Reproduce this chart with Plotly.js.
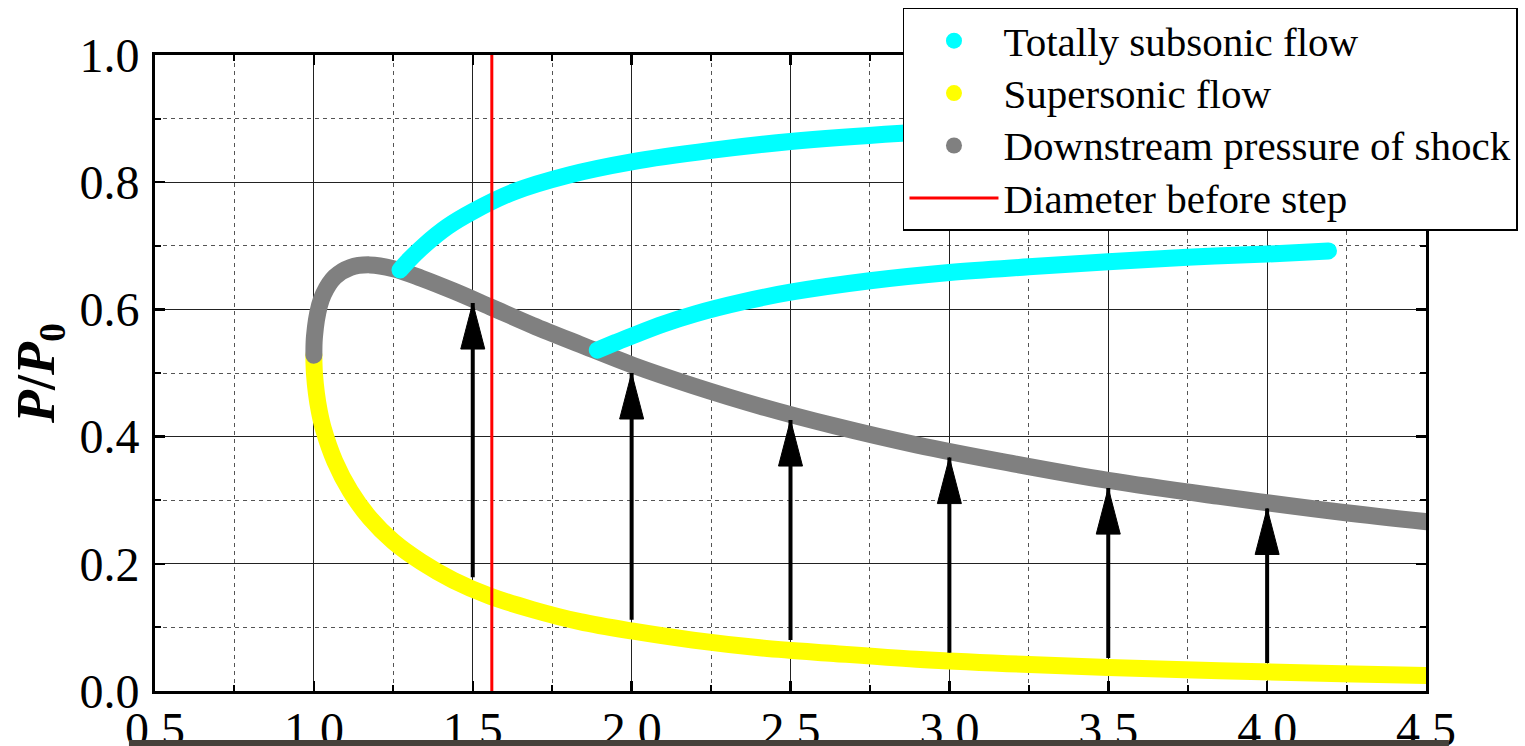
<!DOCTYPE html>
<html>
<head>
<meta charset="utf-8">
<script src="https://cdn.plot.ly/plotly-3.0.1.min.js"></script>
<style>
html,body{margin:0;padding:0;background:#ffffff;}
#chart{width:1525px;height:746px;}
</style>
</head>
<body>
<div id="chart"></div>
<script>
// ---- data ----
// Supersonic flow branch (yellow)
const superX = [1.000, 1.0001, 1.0003, 1.002, 1.008, 1.017, 1.030, 1.066, 1.115, 1.176, 1.250, 1.338, 1.439, 1.555, 1.688, 1.837, 2.005, 2.193, 2.403, 2.637, 2.896, 3.183, 3.500, 3.850, 4.235, 4.657];
const superY = [0.528, 0.523, 0.516, 0.498, 0.468, 0.440, 0.412, 0.361, 0.314, 0.272, 0.235, 0.203, 0.174, 0.149, 0.128, 0.109, 0.094, 0.080, 0.068, 0.059, 0.050, 0.043, 0.037, 0.032, 0.027, 0.023];

// Downstream pressure of shock (grey)
const shockX = [1.000, 1.0001, 1.0003, 1.0007, 1.002, 1.008, 1.017, 1.030, 1.066, 1.115, 1.176, 1.250, 1.338, 1.439, 1.555, 1.688, 1.837, 2.005, 2.193, 2.403, 2.637, 2.896, 3.183, 3.500, 3.850, 4.235, 4.657];
const shockY = [0.528, 0.535, 0.542, 0.548, 0.558, 0.583, 0.605, 0.624, 0.651, 0.666, 0.670, 0.664, 0.649, 0.629, 0.604, 0.575, 0.545, 0.512, 0.480, 0.448, 0.417, 0.387, 0.359, 0.331, 0.306, 0.281, 0.258];

// Totally subsonic flow (cyan), upper and lower branches
const subUpX = [1.271, 1.30, 1.35, 1.42, 1.50, 1.63, 1.80, 2.00, 2.25, 2.50, 2.85, 3.20, 3.60, 4.00, 4.20];
const subUpY = [0.662, 0.678, 0.702, 0.730, 0.754, 0.785, 0.811, 0.832, 0.850, 0.864, 0.877, 0.886, 0.893, 0.898, 0.900];
const subLowX = [1.892, 1.95, 2.00, 2.10, 2.20, 2.35, 2.50, 2.75, 3.00, 3.25, 3.50, 3.75, 4.00, 4.193];
const subLowY = [0.536, 0.548, 0.558, 0.577, 0.593, 0.612, 0.627, 0.645, 0.658, 0.667, 0.675, 0.682, 0.687, 0.692];

// Diameter before step (red vertical line)
const stepX = [1.56, 1.56];
const stepY = [0, 1];

// Arrows from supersonic curve up to shock curve
const arrowX = [1.5, 2.0, 2.5, 3.0, 3.5, 4.0];
const arrowFrom = [0.179, 0.112, 0.080, 0.060, 0.052, 0.044];
const arrowTo = [0.610, 0.500, 0.426, 0.367, 0.319, 0.287];

// Labels
const seriesNames = ['Totally subsonic flow', 'Supersonic flow', 'Downstream pressure of shock', 'Diameter before step'];
const yTitle = '<b><i>P</i>/<i>P</i><sub>0</sub></b>';

// ---- styling ----
const FONT = 'Liberation Serif, Times New Roman, serif';
const CYAN = '#00ffff', YELLOW = '#ffff00', GREY = '#808080', RED = '#ff0000';
const LW = 17;
const legendText = s => '<span style="font-size:41px">' + s + '</span>';

const curveLine = c => ({color: c, width: LW, shape: 'spline', smoothing: 1});

const traces = [
  {x: superX, y: superY, mode: 'lines', line: curveLine(YELLOW), showlegend: false, hoverinfo: 'skip'},
  {x: shockX, y: shockY, mode: 'lines', line: curveLine(GREY), showlegend: false, hoverinfo: 'skip'},
  {x: subUpX, y: subUpY, mode: 'lines', line: curveLine(CYAN), showlegend: false, hoverinfo: 'skip'},
  {x: subLowX, y: subLowY, mode: 'lines', line: curveLine(CYAN), showlegend: false, hoverinfo: 'skip'},
  // legend entries
  {x: [null], y: [null], mode: 'markers', marker: {color: CYAN, size: 19}, name: legendText(seriesNames[0])},
  {x: [null], y: [null], mode: 'markers', marker: {color: YELLOW, size: 19}, name: legendText(seriesNames[1])},
  {x: [null], y: [null], mode: 'markers', marker: {color: GREY, size: 19}, name: legendText(seriesNames[2])},
  {x: stepX, y: stepY, mode: 'lines', line: {color: RED, width: 3}, name: legendText(seriesNames[3]), hoverinfo: 'skip'}
];

const shapes = [];
arrowX.forEach((ax, i) => {
  shapes.push({type: 'line', xref: 'x', yref: 'y', x0: ax, x1: ax, y0: arrowFrom[i], y1: arrowTo[i],
    line: {color: '#000', width: 4}, layer: 'above'});
  shapes.push({type: 'path', xref: 'x', yref: 'y', xsizemode: 'pixel', ysizemode: 'pixel',
    xanchor: ax, yanchor: arrowTo[i], path: 'M-12,-46L0,0L12,-46Z',
    fillcolor: '#000', line: {color: '#000', width: 1}, layer: 'above'});
});
// dark strip at the bottom edge of the picture
shapes.push({type: 'rect', xref: 'paper', yref: 'paper', x0: -0.0205, x1: 1.018, y0: -0.077, y1: -0.09,
  fillcolor: '#46423c', line: {width: 0}, layer: 'above'});

const axisCommon = {
  showline: true, linewidth: 3, linecolor: '#000', mirror: 'ticks',
  ticks: 'inside', ticklen: 10, tickwidth: 2.5, tickcolor: '#000',
  showgrid: true, gridcolor: '#222', gridwidth: 1, zeroline: false,
  tickformat: '.1f', fixedrange: true,
  tickfont: {family: FONT, size: 48, color: '#000'}
};

const layout = {
  width: 1525, height: 746,
  margin: {l: 155, r: 99, t: 55, b: 55, pad: 0, autoexpand: false},
  paper_bgcolor: '#ffffff', plot_bgcolor: '#ffffff',
  font: {family: FONT, size: 41, color: '#000'},
  showlegend: true,
  legend: {x: 0.5885, y: 1.0739, xanchor: 'left', yanchor: 'top', bgcolor: '#ffffff',
    bordercolor: '#000', borderwidth: 1.5, font: {family: FONT, size: 38, color: '#000'},
    itemwidth: 89, traceorder: 'normal', tracegroupgap: 0},
  xaxis: Object.assign({}, axisCommon, {
    range: [0.5, 4.5], tick0: 0.5, dtick: 0.5, ticklabelstandoff: -6,
    minor: {dtick: 0.25, ticks: 'inside', ticklen: 6, tickwidth: 2, tickcolor: '#000',
      showgrid: true, gridcolor: '#555', gridwidth: 1, griddash: '4px,4px'}
  }),
  yaxis: Object.assign({}, axisCommon, {
    range: [0, 1], tick0: 0, dtick: 0.2, ticklabelstandoff: 3,
    minor: {dtick: 0.1, ticks: 'inside', ticklen: 6, tickwidth: 2, tickcolor: '#000',
      showgrid: true, gridcolor: '#555', gridwidth: 1, griddash: '4px,4px'},
    title: {text: yTitle, font: {family: FONT, size: 54, color: '#000'}, standoff: 8}
  }),
  shapes: shapes
};

Plotly.newPlot('chart', traces, layout, {staticPlot: true, displayModeBar: false}).then(() => {
  document.querySelectorAll('.scatterlayer .trace path.js-line').forEach(p => {
    p.style.strokeLinecap = 'round';
  });
});
</script>
</body>
</html>
